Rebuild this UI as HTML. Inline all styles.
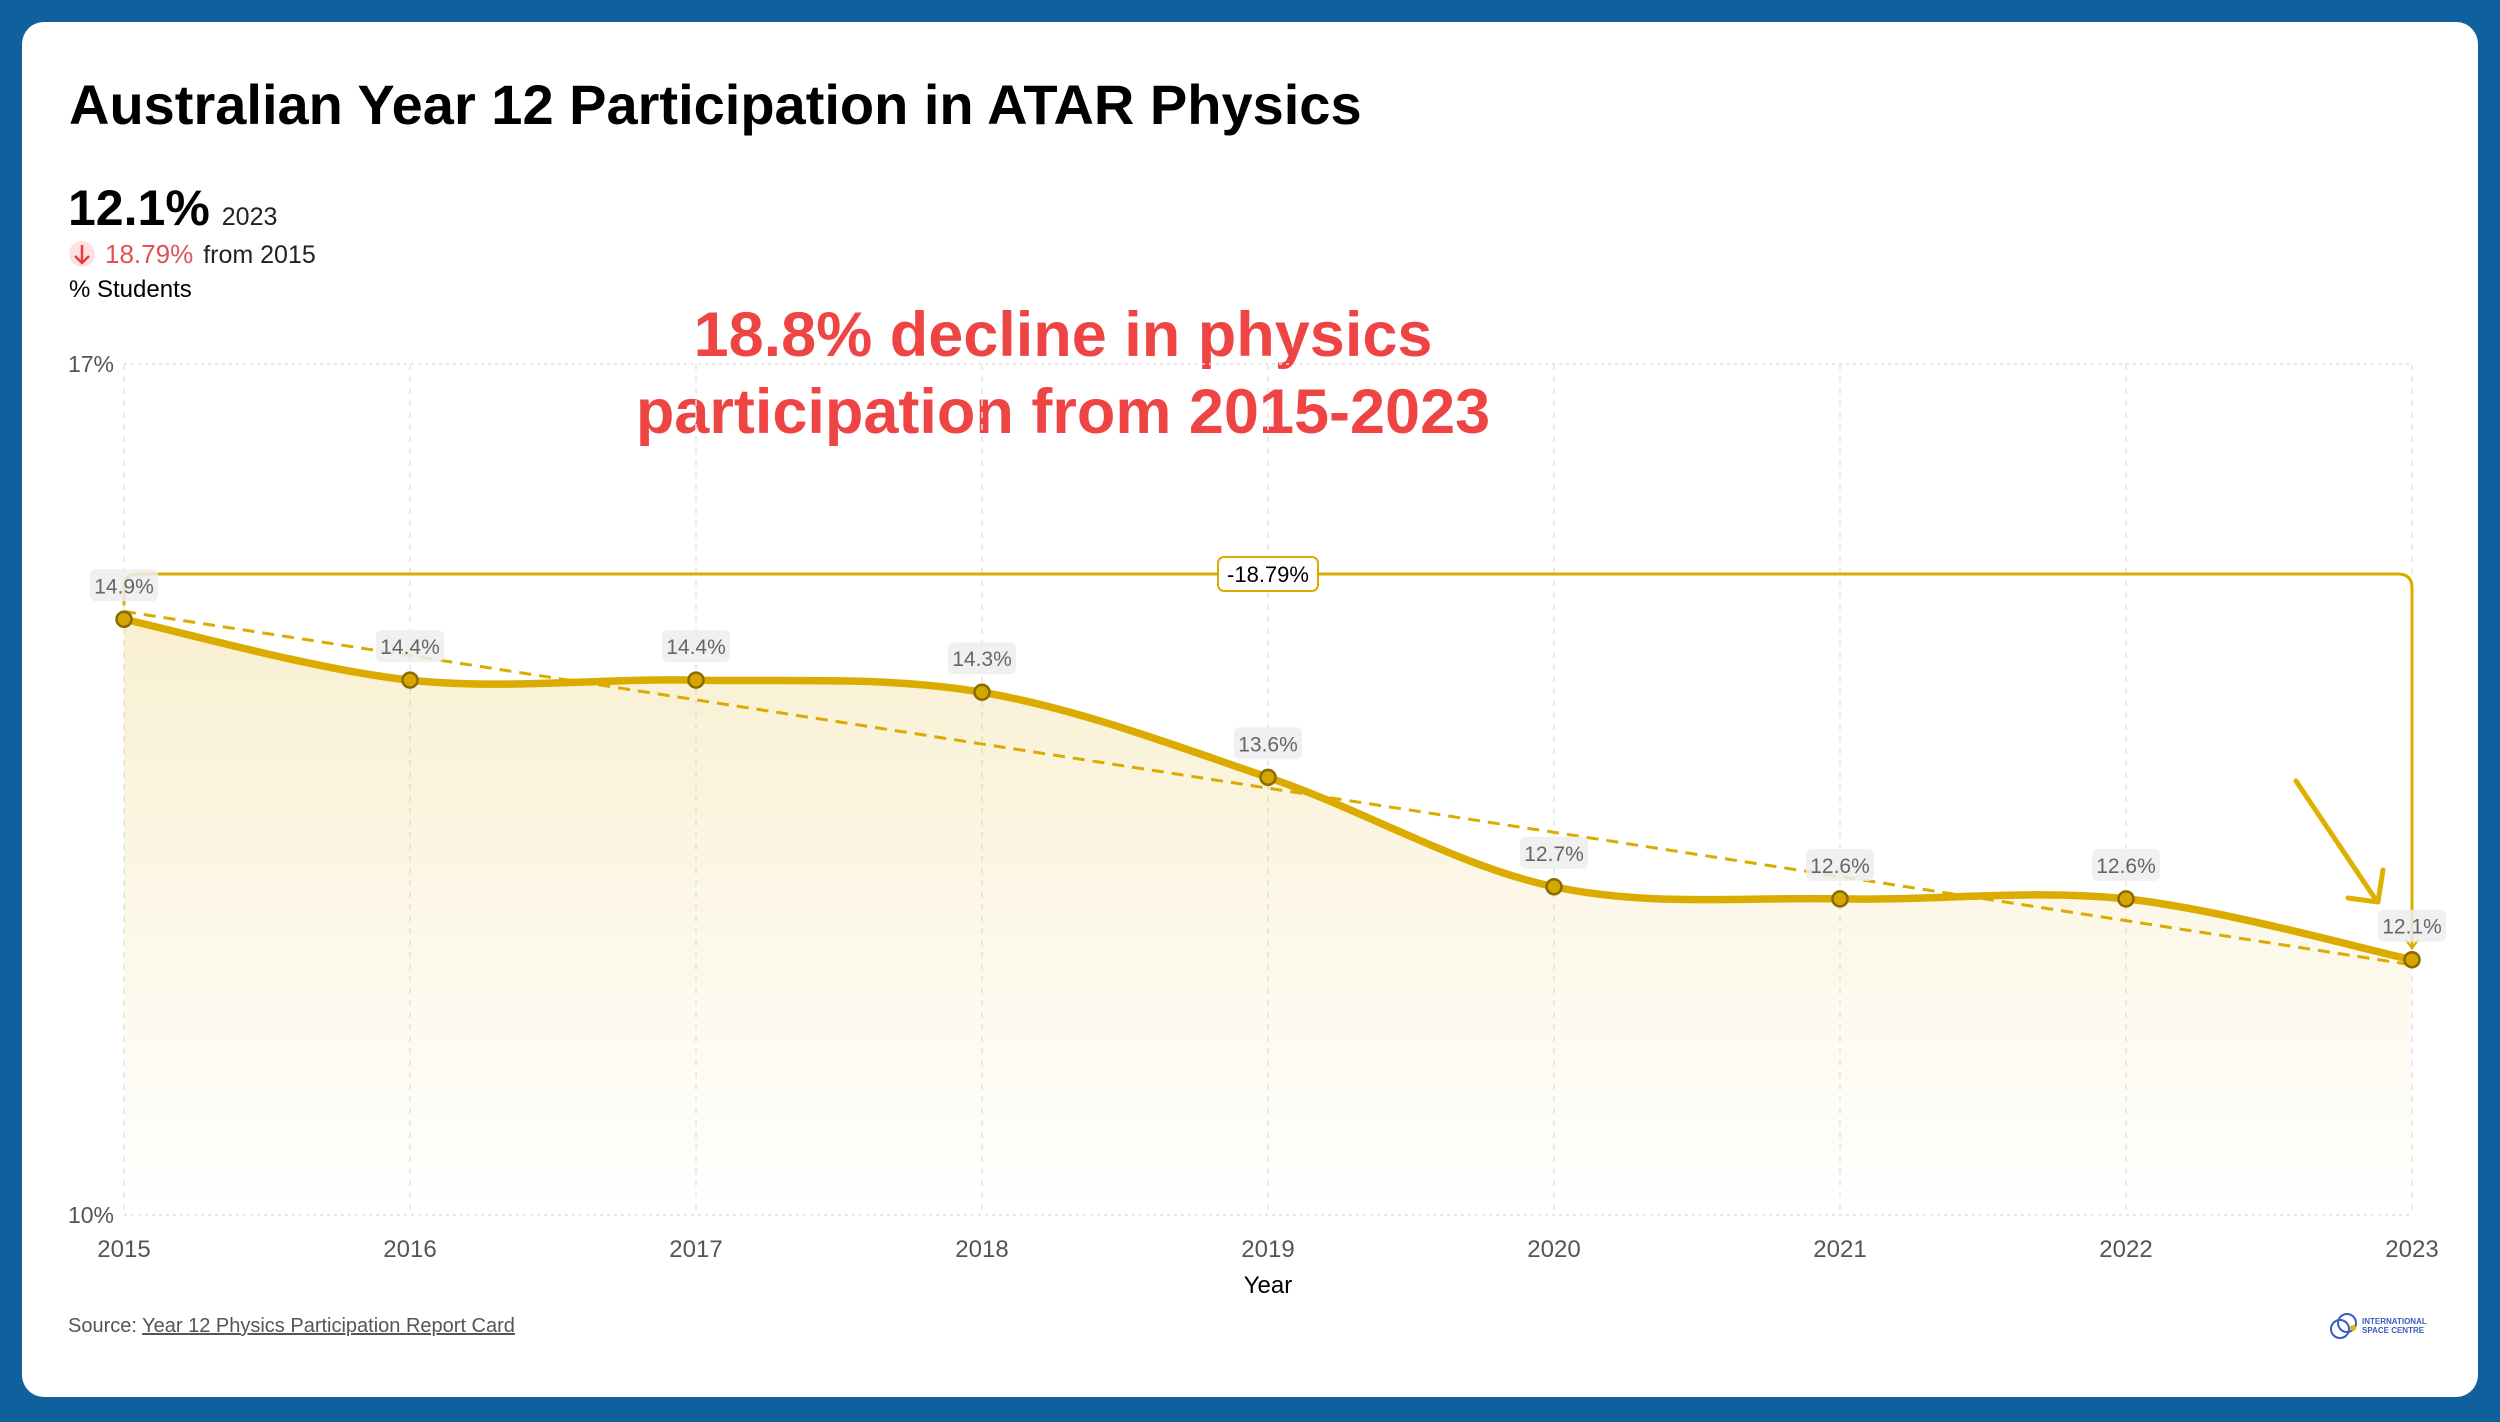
<!DOCTYPE html>
<html><head><meta charset="utf-8"><style>
html,body{margin:0;padding:0;background:#11609e;}
body{width:2500px;height:1417px;overflow:hidden;font-family:"Liberation Sans",sans-serif;}
</style></head><body>
<svg width="2500" height="1417" xmlns="http://www.w3.org/2000/svg" id="chart">
<defs>
<linearGradient id="fillg" x1="0" y1="0" x2="0" y2="1">
<stop offset="0" stop-color="#dcab00" stop-opacity="0.18"/>
<stop offset="1" stop-color="#dcab00" stop-opacity="0"/>
</linearGradient>
</defs>
<rect x="0" y="0" width="2500" height="1417" rx="30" fill="#11609e"/>
<rect x="22" y="22" width="2456" height="1375" rx="22" fill="#fff"/>
<text x="69" y="124" font-size="56" font-weight="bold" fill="#000">Australian Year 12 Participation in ATAR Physics</text>
<text x="68" y="225" font-size="50" font-weight="bold" fill="#000">12.1%<tspan font-size="25" font-weight="normal" fill="#222" dx="12">2023</tspan></text>
<circle cx="82" cy="254" r="13" fill="#fde2e2"/>
<path d="M82 245 V263 M75 256 L82 263 L89 256" stroke="#e53e3e" stroke-width="2.5" fill="none"/>
<text x="105" y="263" font-size="26" fill="#e05353">18.79%<tspan fill="#222" dx="10" font-size="25">from 2015</tspan></text>
<text x="69" y="297" font-size="24" fill="#000">% Students</text>
<text x="1063" y="356" font-size="63" font-weight="bold" fill="#ef4444" text-anchor="middle">18.8% decline in physics</text>
<text x="1063" y="433" font-size="63" font-weight="bold" fill="#ef4444" text-anchor="middle">participation from 2015-2023</text>
<g id="plot"></g>
<text x="1268" y="1293" font-size="24" fill="#000" text-anchor="middle">Year</text>
<text x="68" y="1332" font-size="20" fill="#555">Source: <tspan text-decoration="underline">Year 12 Physics Participation Report Card</tspan></text>
<g>
<circle cx="2340" cy="1329" r="9" fill="none" stroke="#3b5bbf" stroke-width="2"/>
<circle cx="2347" cy="1323" r="9" fill="none" stroke="#3b5bbf" stroke-width="2"/>
<circle cx="2353" cy="1328" r="3" fill="#e8b400"/>
<text x="2362" y="1324" font-size="8" font-weight="bold" fill="#3b5bbf">INTERNATIONAL</text>
<text x="2362" y="1333" font-size="8" font-weight="bold" fill="#3b5bbf">SPACE CENTRE</text>
</g>
</svg>
<script>
const years=[2015,2016,2017,2018,2019,2020,2021,2022,2023];
const values=[14.9,14.4,14.4,14.3,13.6,12.7,12.6,12.6,12.1];
const labels=["14.9%","14.4%","14.4%","14.3%","13.6%","12.7%","12.6%","12.6%","12.1%"];
const yTicks=[10,17];
const changeLabel="-18.79%";
const NS="http://www.w3.org/2000/svg";
const g=document.getElementById('plot');
const X0=124,X1=2412,Y0=364,Y1=1215,YMIN=10,YMAX=17;
const xs=y=>X0+(y-years[0])/(years[years.length-1]-years[0])*(X1-X0);
const ys=v=>Y1-(v-YMIN)/(YMAX-YMIN)*(Y1-Y0);
function mk(t,a){const e=document.createElementNS(NS,t);for(const k in a)e.setAttribute(k,a[k]);g.appendChild(e);return e;}
years.forEach(y=>{const e=mk('line',{x1:xs(y),x2:xs(y),y1:Y0,y2:Y1,stroke:'#e6e6e6','stroke-width':1.5,'stroke-dasharray':'6 6'});


const t=mk('text',{x:xs(y),y:1257,'font-size':24,fill:'#555','text-anchor':'middle'});t.textContent=y;

});
yTicks.forEach(v=>{const e=mk('line',{x1:X0,x2:X1,y1:ys(v),y2:ys(v),stroke:'#e0e0e0','stroke-width':1.5,'stroke-dasharray':'3 4'});


const t=mk('text',{x:114,y:ys(v)+8,'font-size':23,fill:'#555','text-anchor':'end'});t.textContent=v+'%';

});
// catmull-rom curve
const P=years.map((y,i)=>[xs(y),ys(values[i])]);
const n=P.length;
let path='M'+P[0][0]+' '+P[0][1];
for(let i=0;i<n-1;i++){
const p0=P[Math.max(i-1,0)],p1=P[i],p2=P[i+1],p3=P[Math.min(i+2,n-1)];
const c1=[p1[0]+(p2[0]-p0[0])/6,p1[1]+(p2[1]-p0[1])/6];
const c2=[p2[0]-(p3[0]-p1[0])/6,p2[1]-(p3[1]-p1[1])/6];
path+=` C${c1[0]} ${c1[1]} ${c2[0]} ${c2[1]} ${p2[0]} ${p2[1]}`;}
const area=mk('path',{d:path+` L${X1} ${Y1} L${X0} ${Y1} Z`,fill:'url(#fillg)'});


const mx=years.reduce((a,b)=>a+b)/n,my=values.reduce((a,b)=>a+b)/n;
let sxy=0,sxx=0;years.forEach((y,i)=>{sxy+=(y-mx)*(values[i]-my);sxx+=(y-mx)*(y-mx);});
const sl=sxy/sxx,tr=y=>my+sl*(y-mx);
const trend=mk('line',{x1:X0,y1:ys(tr(years[0])),x2:X1,y2:ys(tr(years[n-1])),stroke:'#dcab00','stroke-width':3,'stroke-dasharray':'12 8'});


const line=mk('path',{d:path,fill:'none',stroke:'#dcab00','stroke-width':7.5,'stroke-linecap':'round'});


const BY=574,xa=X0,xb=X1;
const br=mk('path',{d:`M${xa} ${ys(values[0])-14} V${BY+14} Q${xa} ${BY} ${xa+14} ${BY} H${xb-14} Q${xb} ${BY} ${xb} ${BY+14} V${ys(values[n-1])-12}`,fill:'none',stroke:'#dcab00','stroke-width':3});


mk('path',{d:`M${xb-6} ${ys(values[n-1])-20} L${xb} ${ys(values[n-1])-11} L${xb+6} ${ys(values[n-1])-20}`,fill:'none',stroke:'#dcab00','stroke-width':2});
const cx=(xa+xb)/2;
const bl=mk('rect',{x:cx-50,y:BY-17,width:100,height:34,rx:6,fill:'#fff',stroke:'#dcab00','stroke-width':2});


const bt=mk('text',{x:cx,y:BY+8,'font-size':22,fill:'#000','text-anchor':'middle'});bt.textContent=changeLabel;


const ar=mk('path',{d:'M2296 781 L2376 900 M2348 898 L2378 902 L2383 870',fill:'none',stroke:'#e0b000','stroke-width':5,'stroke-linecap':'round','stroke-linejoin':'round'});


P.forEach((p,i)=>{
const lb=mk('rect',{x:p[0]-34,y:p[1]-50,width:68,height:32,rx:6,fill:'#ededed','fill-opacity':0.85});


const t=mk('text',{x:p[0],y:p[1]-26,'font-size':21,fill:'#666','text-anchor':'middle'});t.textContent=labels[i];


const c=mk('circle',{cx:p[0],cy:p[1],r:7.5,fill:'#d4a600',stroke:'#8a6a00','stroke-width':2.5});


});
</script>
</body></html>
